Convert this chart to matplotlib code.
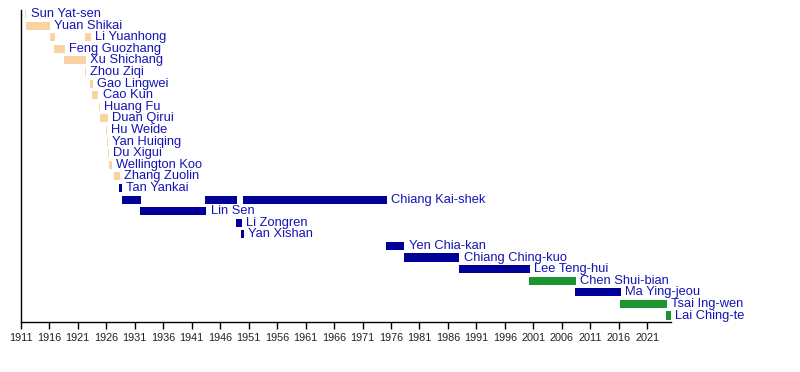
import matplotlib.pyplot as plt

# Presidentes da República da China - linha do tempo
plt.rcParams['font.family'] = ['Liberation Sans', 'DejaVu Sans']

# Uma linha por pessoa, na ordem de cima para baixo
presidents = ['Sun Yat-sen', 'Yuan Shikai', 'Li Yuanhong', 'Feng Guozhang', 'Xu Shichang',
              'Zhou Ziqi', 'Gao Lingwei', 'Cao Kun', 'Huang Fu', 'Duan Qirui', 'Hu Weide',
              'Yan Huiqing', 'Du Xigui', 'Wellington Koo', 'Zhang Zuolin', 'Tan Yankai',
              'Chiang Kai-shek', 'Lin Sen', 'Li Zongren', 'Yan Xishan', 'Yen Chia-kan',
              'Chiang Ching-kuo', 'Lee Teng-hui', 'Chen Shui-bian', 'Ma Ying-jeou',
              'Tsai Ing-wen', 'Lai Ching-te']

# Mandatos (uma pessoa pode ter mais de um)
term_person = ['Sun Yat-sen', 'Yuan Shikai', 'Li Yuanhong', 'Li Yuanhong', 'Feng Guozhang',
               'Xu Shichang', 'Zhou Ziqi', 'Gao Lingwei', 'Cao Kun', 'Huang Fu', 'Duan Qirui',
               'Hu Weide', 'Yan Huiqing', 'Du Xigui', 'Wellington Koo', 'Zhang Zuolin',
               'Tan Yankai', 'Chiang Kai-shek', 'Lin Sen', 'Chiang Kai-shek', 'Li Zongren',
               'Yan Xishan', 'Chiang Kai-shek', 'Yen Chia-kan', 'Chiang Ching-kuo',
               'Lee Teng-hui', 'Chen Shui-bian', 'Ma Ying-jeou', 'Tsai Ing-wen', 'Lai Ching-te']
term_start = [1911.80, 1911.93, 1916.14, 1922.29, 1916.90,
              1918.65, 1922.29, 1923.22, 1923.57, 1924.75, 1924.83,
              1925.98, 1926.10, 1926.33, 1926.50, 1927.29,
              1928.31, 1928.75, 1931.90, 1943.40, 1948.80,
              1949.68, 1949.98, 1975.15, 1978.30,
              1987.95, 2000.24, 2008.30, 2016.20, 2024.30]
term_end = [1911.97, 1916.09, 1917.02, 1923.34, 1918.78,
            1922.46, 1922.41, 1923.69, 1924.62, 1924.87, 1926.27,
            1926.10, 1926.33, 1926.50, 1926.98, 1928.35,
            1928.73, 1932.08, 1943.60, 1948.90, 1949.80,
            1950.20, 1975.26, 1978.35, 1988.00,
            2000.40, 2008.50, 2016.30, 2024.40, 2025.10]
term_party = ['beiyang', 'beiyang', 'beiyang', 'beiyang', 'beiyang',
              'beiyang', 'beiyang', 'beiyang', 'beiyang', 'beiyang', 'beiyang',
              'beiyang', 'beiyang', 'beiyang', 'beiyang', 'beiyang',
              'kmt', 'kmt', 'kmt', 'kmt', 'kmt',
              'kmt', 'kmt', 'kmt', 'kmt',
              'kmt', 'dpp', 'kmt', 'dpp', 'dpp']

party_colors = {'beiyang': '#fad3a2', 'kmt': '#000099', 'dpp': '#1c9431'}

years = list(range(1911, 2022, 5))

fig = plt.figure(figsize=(8, 3.72), dpi=100)
ax = fig.add_axes([0.0259, 0.1344, 0.8125, 0.8387])

# Barras
for person, start, end, party in zip(term_person, term_start, term_end, term_party):
    row = presidents.index(person)
    ax.barh(row, end - start, left=start, height=0.7, color=party_colors[party], linewidth=0)

# Nome depois do último mandato de cada pessoa
for row, person in enumerate(presidents):
    last_end = max(e for p, e in zip(term_person, term_end) if p == person)
    ax.text(last_end + 0.75, row, person, color='#1414b4', fontsize=9.3,
            va='center', ha='left', clip_on=False)

ax.set_xlim(1911, 2025.1)
ax.set_ylim(26.56, -0.35)
ax.set_xticks(years)
ax.set_xticklabels([str(y) for y in years])
ax.set_yticks([])
ax.tick_params(axis='x', direction='out', length=5, width=1, labelsize=7.8,
               pad=3, colors='black', labelcolor='#222222')
ax.spines['top'].set_visible(False)
ax.spines['right'].set_visible(False)
ax.spines['left'].set_linewidth(1)
ax.spines['bottom'].set_linewidth(1)

fig.savefig('out.png', dpi=100)
